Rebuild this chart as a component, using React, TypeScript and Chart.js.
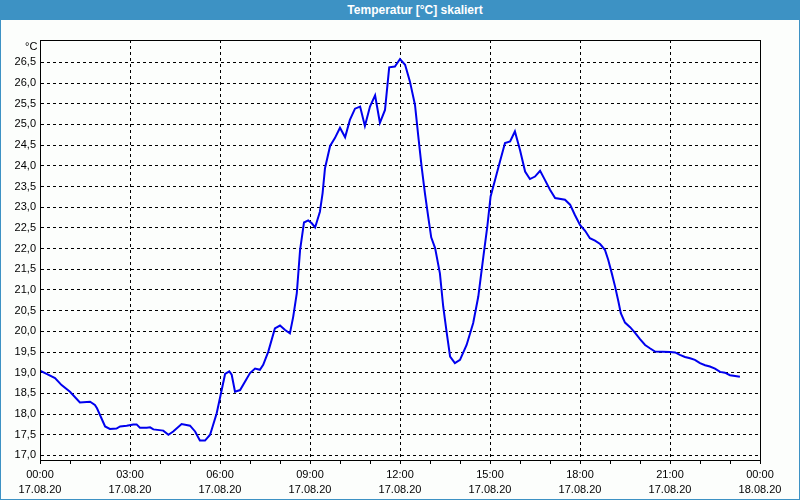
import { useEffect, useRef } from 'react';
import { Chart, registerables } from 'chart.js';

Chart.register(...registerables);

const chartTitle = 'Temperatur [°C] skaliert';
const unitLabel = '°C';

// time of day in hours on 17.08.20
const times = [
  0.0, 0.22, 0.5, 0.72, 1.0, 1.33, 1.67, 1.83, 1.9, 2.17, 2.33, 2.55, 2.67, 2.89, 3.11, 3.22,
  3.33, 3.56, 3.67, 3.78, 4.11, 4.28, 4.44, 4.72, 5.0, 5.17, 5.33, 5.5, 5.67, 5.89, 6.17, 6.31,
  6.39, 6.5, 6.67, 7.0, 7.17, 7.33, 7.44, 7.61, 7.83, 8.0, 8.17, 8.33, 8.44, 8.56, 8.67, 8.8,
  8.94, 9.06, 9.17, 9.33, 9.42, 9.5, 9.67, 9.83, 10.0, 10.17, 10.33, 10.5, 10.67, 10.83, 11.0,
  11.17, 11.33, 11.5, 11.64, 11.83, 12.0, 12.17, 12.33, 12.5, 12.61, 12.72, 12.83, 12.94, 13.04,
  13.17, 13.33, 13.44, 13.56, 13.67, 13.83, 14.0, 14.22, 14.44, 14.61, 14.78, 14.91, 15.02,
  15.17, 15.33, 15.5, 15.67, 15.83, 16.0, 16.17, 16.33, 16.5, 16.67, 16.83, 17.0, 17.17, 17.5,
  17.67, 17.83, 18.0, 18.17, 18.33, 18.5, 18.67, 18.83, 18.94, 19.06, 19.17, 19.28, 19.36,
  19.5, 19.67, 19.83, 20.0, 20.17, 20.33, 20.5, 21.0, 21.17, 21.33, 21.5, 21.67, 21.83, 22.0,
  22.17, 22.33, 22.5, 22.67, 22.83, 23.0, 23.17, 23.33,
];

const temps = [
  19.05, 18.97, 18.87, 18.7, 18.54, 18.28, 18.3, 18.22, 18.14, 17.7, 17.64, 17.65, 17.7, 17.72,
  17.75, 17.75, 17.67, 17.67, 17.68, 17.63, 17.6, 17.5, 17.58, 17.76, 17.72, 17.58, 17.36,
  17.36, 17.5, 18.02, 18.97, 19.03, 18.95, 18.54, 18.58, 18.99, 19.1, 19.07, 19.19, 19.51,
  20.07, 20.14, 20.03, 19.95, 20.35, 20.92, 21.97, 22.63, 22.68, 22.61, 22.51, 22.89, 23.34,
  23.94, 24.48, 24.67, 24.92, 24.69, 25.11, 25.38, 25.43, 24.96, 25.43, 25.7, 25.04, 25.35,
  26.38, 26.4, 26.58, 26.44, 26.04, 25.47, 24.71, 23.98, 23.34, 22.77, 22.27, 22.01, 21.4, 20.6,
  19.95, 19.39, 19.23, 19.31, 19.67, 20.2, 20.84, 21.81, 22.53, 23.26, 23.66, 24.1, 24.55,
  24.59, 24.83, 24.38, 23.86, 23.68, 23.74, 23.88, 23.66, 23.42, 23.22, 23.18, 23.06, 22.81,
  22.57, 22.43, 22.25, 22.19, 22.11, 21.97, 21.73, 21.4, 21.08, 20.72, 20.44, 20.21, 20.1,
  19.97, 19.81, 19.67, 19.59, 19.51, 19.5, 19.49, 19.43, 19.38, 19.35, 19.31, 19.23, 19.18,
  19.15, 19.1, 19.02, 19.0, 18.94, 18.92, 18.9,
];

const xLabelHours = [0, 3, 6, 9, 12, 15, 18, 21, 24];
const timeLabels = ['00:00', '03:00', '06:00', '09:00', '12:00', '15:00', '18:00', '21:00', '00:00'];
const dateLabels = ['17.08.20', '17.08.20', '17.08.20', '17.08.20', '17.08.20', '17.08.20', '17.08.20', '17.08.20', '18.08.20'];

const yMin = 16.89;
const yMax = 27.04;
const yFirstTick = 17.0;
const yLastTick = 26.5;
const yStep = 0.5;

const FONT = "'Liberation Sans', Arial, sans-serif";
const BAR = '#3d92c4';
const BG = '#fcfefc';

export default function App() {
  const ref = useRef<HTMLCanvasElement | null>(null);

  useEffect(() => {
    if (!ref.current) return;
    const framePlugin = {
      id: 'frame',
      beforeDraw(chart: any) {
        const c = chart.ctx;
        c.save();
        c.fillStyle = BG;
        c.fillRect(0, 0, chart.width, chart.height);
        c.restore();
      },
      afterDraw(chart: any) {
        const { left, right, top, bottom } = chart.chartArea;
        const c = chart.ctx;
        c.save();
        c.strokeStyle = '#000';
        c.lineWidth = 1;
        c.setLineDash([]);
        c.strokeRect(Math.round(left) + 0.5, Math.round(top) + 0.5, Math.round(right - left), Math.round(bottom - top));
        c.restore();
      },
    };

    const chart = new Chart(ref.current, {
      type: 'line',
      data: {
        datasets: [
          {
            data: times.map((t, i) => ({ x: t, y: temps[i] })),
            borderColor: '#0000ee',
            borderWidth: 2,
            pointRadius: 0,
            tension: 0,
            fill: false,
          },
        ],
      },
      options: {
        responsive: false,
        animation: false,
        devicePixelRatio: 1,
        layout: { padding: { left: 0, right: 40, top: 40, bottom: 0 } },
        plugins: {
          legend: { display: false },
          tooltip: { enabled: false },
          title: { display: false },
        },
        scales: {
          x: {
            type: 'linear',
            min: 0,
            max: 24,
            afterFit(scale: any) {
              scale.height = 40;
            },
            ticks: {
              stepSize: 1,
              autoSkip: false,
              maxRotation: 0,
              minRotation: 0,
              padding: 3,
              color: '#000',
              font: { family: FONT, size: 11, lineHeight: '15px' },
              callback(value: any) {
                const i = xLabelHours.indexOf(Number(value));
                return i >= 0 ? [timeLabels[i], dateLabels[i]] : '';
              },
            },
            grid: {
              color: (ctx: any) =>
                ctx.tick && Number(ctx.tick.value) % 3 === 0 ? '#000' : 'rgba(0,0,0,0)',
              lineWidth: 1,
              tickColor: '#000',
              tickLength: 4,
              tickBorderDash: [],
            },
            border: { display: true, color: '#000', width: 1, dash: [3, 3] },
          },
          y: {
            type: 'linear',
            min: yMin,
            max: yMax,
            afterFit(scale: any) {
              scale.width = 40;
            },
            afterBuildTicks(scale: any) {
              scale.ticks = scale.ticks.filter(
                (t: any) => t.value >= yFirstTick - 1e-6 && t.value <= yLastTick + 1e-6
              );
            },
            ticks: {
              stepSize: yStep,
              includeBounds: false,
              autoSkip: false,
              padding: 4,
              color: '#000',
              font: { family: FONT, size: 11 },
              callback(value: any) {
                return Number(value).toFixed(1).replace('.', ',');
              },
            },
            grid: {
              color: '#000',
              lineWidth: 1,
              drawTicks: false,
            },
            border: { display: true, color: '#000', width: 1, dash: [3, 3] },
          },
        },
      },
      plugins: [framePlugin],
    } as any);
    return () => chart.destroy();
  }, []);

  return (
    <div style={{ position: 'absolute', left: 0, top: 0, width: 800, height: 500, background: BG }}>
      <canvas ref={ref} width={800} height={500} style={{ display: 'block', width: 800, height: 500 }} />
      <div
        style={{
          position: 'absolute',
          left: 0,
          top: 0,
          width: 800,
          height: 20,
          boxSizing: 'border-box',
          paddingLeft: 30,
          background: BAR,
          color: '#fff',
          fontFamily: FONT,
          fontWeight: 'bold',
          fontSize: 12,
          lineHeight: '20px',
          textAlign: 'center',
        }}
      >
        {chartTitle}
      </div>
      <div
        style={{
          position: 'absolute',
          left: 25,
          top: 40,
          fontFamily: FONT,
          fontSize: 11,
          lineHeight: '12px',
          color: '#000',
        }}
      >
        {unitLabel}
      </div>
      <div
        style={{
          position: 'absolute',
          left: 0,
          top: 0,
          width: 800,
          height: 500,
          boxSizing: 'border-box',
          border: `1px solid ${BAR}`,
          pointerEvents: 'none',
        }}
      />
    </div>
  );
}
